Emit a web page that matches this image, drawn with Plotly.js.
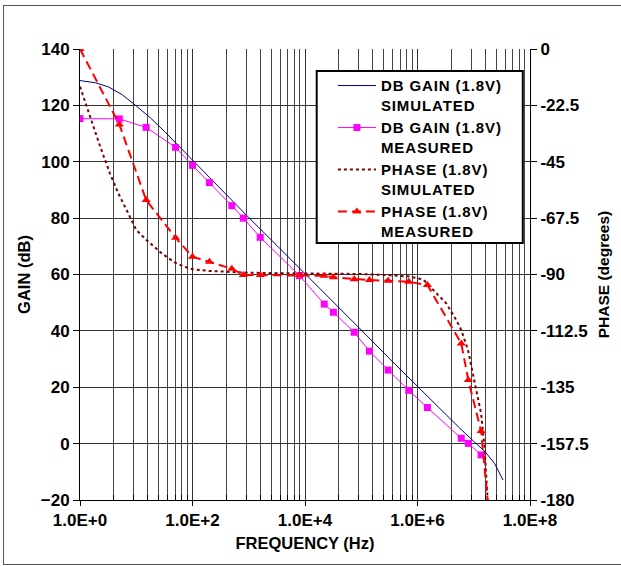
<!DOCTYPE html>
<html>
<head>
<meta charset="utf-8">
<script src="https://cdn.plot.ly/plotly-3.0.1.min.js"></script>
<style>
  html, body { margin: 0; padding: 0; background: #fff; }
  #chart { position: absolute; left: 0; top: 0; width: 621px; height: 566px; }
  #frame { position: absolute; left: 3px; top: 5px; width: 640px; height: 558px; border: 1px solid #555; pointer-events: none; }
  #chart .legendtext { letter-spacing: 0.9px; }
  #chart .legend .scrollbox, #chart .legend { clip-path: none !important; }
</style>
</head>
<body>
<div id="chart"></div>
<div id="frame"></div>
<script>
// ---- data ----
const simGainFreq = [1, 1.89, 3.16, 5.62, 10, 17.8, 31.6, 56.2, 100, 316, 1000, 3160, 1e4, 3.16e4, 1e5, 3.16e5, 1e6, 3.16e6, 5.62e6, 1e7, 1.58e7, 2.34e7, 3.31e7];
const simGain     = [128.8, 128.0, 126.6, 123.8, 119.8, 115.6, 110.8, 105.7, 100.4, 90.2, 80.2, 70.3, 60.4, 50.4, 40.3, 30.2, 20.3, 10.3, 5.5, 0.8, -2.8, -7.0, -12.9];

const measFreq = [1, 5, 15, 50, 100, 200, 500, 800, 1600, 8000, 22000, 32000, 75000, 140000, 300000, 700000, 1.5e6, 6e6, 8e6, 1.35e7];
const measGain = [115.3, 115.2, 112.2, 105.1, 98.7, 92.6, 84.4, 80.0, 73.2, 59.6, 49.5, 46.6, 39.5, 32.8, 26.1, 18.9, 12.8, 1.9, 0.1, -4.0];

const simPhaseFreq = [1, 1.5, 2.29, 3.4, 4.8, 7.2, 10, 15.1, 28.2, 49, 72, 100, 200, 500, 1000, 1e4, 1e5, 3.16e5, 7.2e5, 1.26e6, 2.04e6, 3.24e6, 4.9e6, 6e6, 7.9e6, 9.1e6, 1.05e7, 1.2e7, 1.35e7, 1.55e7, 1.66e7, 1.78e7, 2.0e7];
const simPhase     = [-15, -27, -39, -49.6, -57.6, -65.6, -72.2, -76.2, -81.5, -85.3, -86.9, -87.9, -88.6, -89.0, -89.3, -89.6, -89.8, -90.3, -90.8, -92, -96.9, -101.5, -108.2, -112.2, -120.1, -126.8, -132.1, -138.8, -145.4, -158.7, -168, -180, -200];

const measPhaseFreq = [1, 5, 15, 50, 100, 200, 500, 800, 1600, 8000, 22000, 32000, 75000, 140000, 300000, 700000, 1.5e6, 6e6, 8e6, 1.35e7, 2.0e7];
const measPhase     = [0, -30.1, -60.3, -75.3, -82.9, -84.9, -87.7, -90.2, -90.2, -90.2, -90.5, -91.1, -91.9, -92.2, -92.5, -92.9, -94.2, -117.5, -132.1, -152.5, -193];

const seriesNames = [
  'DB GAIN (1.8V)<br>SIMULATED',
  'DB GAIN (1.8V)<br>MEASURED',
  'PHASE (1.8V)<br>SIMULATED',
  'PHASE (1.8V)<br>MEASURED'
];

const xMajorVals = [1, 100, 1e4, 1e6, 1e8];
const xMajorText = ['1.0E+0', '1.0E+2', '1.0E+4', '1.0E+6', '1.0E+8'];
const phaseTickVals = [0, -22.5, -45, -67.5, -90, -112.5, -135, -157.5, -180];
const phaseTickText = ['0', '-22.5', '-45', '-67.5', '-90', '-112.5', '-135', '-157.5', '-180'];

// minor gridlines (Excel base-100 log axis style)
const xMinorVals = [];
[1, 100, 1e4, 1e6].forEach(b => { for (let k = 2; k <= 9; k++) xMinorVals.push(b * k * k); });

const FONT = 'Liberation Sans, Arial, sans-serif';

const traces = [
  { x: simGainFreq, y: simGain, name: seriesNames[0], type: 'scatter', mode: 'lines',
    line: { color: '#000080', width: 1 }, yaxis: 'y' },
  { x: measFreq, y: measGain, name: seriesNames[1], type: 'scatter', mode: 'lines+markers',
    line: { color: '#FF00FF', width: 1 }, marker: { symbol: 'square', size: 7, color: '#FF00FF' }, yaxis: 'y' },
  { x: simPhaseFreq, y: simPhase, name: seriesNames[2], type: 'scatter', mode: 'lines',
    line: { color: '#800000', width: 2, dash: 'dot' }, yaxis: 'y2' },
  { x: measPhaseFreq, y: measPhase, name: seriesNames[3], type: 'scatter', mode: 'lines+markers',
    line: { color: '#FF0000', width: 2, dash: '9px,5px' }, marker: { symbol: 'triangle-up', size: 8, color: '#FF0000' }, yaxis: 'y2' }
];

const layout = {
  width: 621, height: 566,
  margin: { l: 80, r: 91, t: 49, b: 66 },
  paper_bgcolor: '#fff', plot_bgcolor: '#fff',
  font: { family: FONT, size: 17, color: '#000', weight: 'bold' },
  showlegend: true,
  legend: {
    x: 0.562, y: 0.955, xanchor: 'left', yanchor: 'top',
    bgcolor: 'rgba(0,0,0,0)', borderwidth: 0,
    font: { family: FONT, size: 15, color: '#000', weight: 'bold' },
    valign: 'top', tracegroupgap: 0, itemwidth: 38
  },
  shapes: [
    { type: 'rect', xref: 'paper', yref: 'paper', x0: 0.526, x1: 0.984, y0: 0.570, y1: 0.951,
      line: { color: '#000', width: 2 }, fillcolor: '#fff', layer: 'above' }
  ],
  xaxis: {
    type: 'log', range: [0, 8],
    tickmode: 'array', tickvals: xMajorVals, ticktext: xMajorText,
    ticks: 'outside', ticklen: 5, tickcolor: '#000',
    showgrid: true, gridcolor: '#333', gridwidth: 1,
    minor: { tickmode: 'array', tickvals: xMinorVals, showgrid: true, gridcolor: '#444', gridwidth: 1, ticks: 'inside', ticklen: 5, tickcolor: '#000' },
    showline: true, linecolor: '#000', linewidth: 1, mirror: false, zeroline: false,
    tickfont: { family: FONT, size: 17, weight: 'bold' },
    title: { text: 'FREQUENCY (Hz)', font: { family: FONT, size: 16.5, weight: 'bold' }, standoff: 8 }
  },
  yaxis: {
    range: [-20, 140], dtick: 20, tick0: 0,
    ticks: 'outside', ticklen: 6, tickcolor: '#000',
    showgrid: true, gridcolor: '#333', gridwidth: 1, zeroline: false,
    showline: true, linecolor: '#000', linewidth: 1,
    tickfont: { family: FONT, size: 17, weight: 'bold' },
    title: { text: 'GAIN (dB)', font: { family: FONT, size: 16.5, weight: 'bold' }, standoff: 5 }
  },
  yaxis2: {
    overlaying: 'y', side: 'right', range: [-180, 0],
    tickmode: 'array', tickvals: phaseTickVals, ticktext: phaseTickText,
    ticks: 'outside', ticklen: 6, tickcolor: '#000',
    showgrid: false, zeroline: false,
    showline: true, linecolor: '#000', linewidth: 1,
    tickfont: { family: FONT, size: 17, weight: 'bold' },
    title: { text: 'PHASE (degrees)', font: { family: FONT, size: 15.5, weight: 'bold' }, standoff: 10 }
  }
};

Plotly.newPlot('chart', traces, layout, { displayModeBar: false, staticPlot: true });
</script>
</body>
</html>
